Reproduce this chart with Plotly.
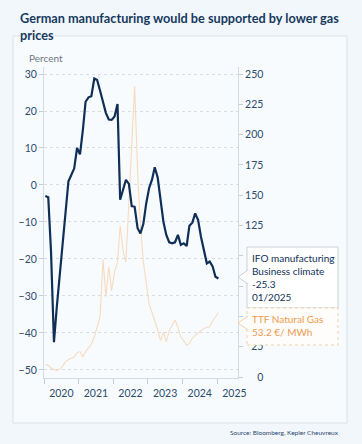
import plotly.graph_objects as go
import pandas as pd

# ---- data (monthly, Jan 2020 - Jan 2025) ----
months = pd.date_range("2020-01-01", periods=61, freq="MS") + pd.Timedelta(days=14)

ifo_business_climate = [
    -3.0, -3.3, -18.0, -42.5, -33.0, -24.0, -15.0, -6.5, 1.0, 2.7, 4.5, 10.0,
    8.3, 15.0, 22.5, 23.7, 24.0, 28.8, 28.4, 25.5, 22.5, 19.5, 17.7, 17.6,
    18.5, 21.9, -4.0, -1.5, 1.4, 0.3, -5.7, -5.9, -11.7, -13.1, -10.5, -5.0,
    -0.8, 1.5, 4.8, 2.0, -4.0, -10.0, -13.5, -15.5, -15.8, -15.5, -13.5, -16.2,
    -15.8, -16.5, -11.0, -10.2, -7.7, -9.5, -14.0, -17.5, -21.2, -20.7, -22.0, -24.8,
    -25.3,
]

ttf_gas = [
    10.5, 9.5, 7.5, 6.0, 5.5, 6.5, 9.0, 12.5, 14.5, 15.5, 16.5, 20.0,
    21.0, 16.5, 21.0, 24.0, 27.0, 33.0, 42.0, 50.0, 97.0, 66.0, 91.0, 71.0,
    87.0, 95.0, 125.0, 104.0, 95.0, 145.0, 195.0, 240.0, 170.0, 125.0, 95.0, 77.0,
    60.0, 53.0, 47.0, 39.0, 30.0, 37.0, 29.0, 38.0, 43.0, 47.0, 41.0, 33.0,
    30.0, 26.0, 28.0, 32.0, 34.5, 36.0, 38.5, 40.0, 41.0, 41.5, 46.5, 49.5,
    53.2,
]

left_ticks = [30, 20, 10, 0, -10, -20, -30, -40, -50]
right_ticks = [0, 25, 50, 75, 100, 125, 150, 175, 200, 225, 250]
right_hidden = [50, 75, 100]  # covered by the label boxes in the original

# ---- styling ----
NAVY = "#0f2f57"
TICK = "#2e4b6b"
PEACH = "#f8dbbf"
ORANGE = "#ec9a4c"
FONT = "Lato"

W, H = 362, 444
L, R, T, B = 44, 238, 67, 378
PW, PH = R - L, B - T


def px(x):
    return (x - L) / PW


def py(y):
    return (B - y) / PH


fig = go.Figure()
fig.add_trace(go.Scatter(x=months, y=ttf_gas, mode="lines", yaxis="y",
                         line=dict(color=PEACH, width=1.1), hoverinfo="skip"))
fig.add_trace(go.Scatter(x=months, y=ifo_business_climate, mode="lines", yaxis="y2",
                         line=dict(color=NAVY, width=2.2), hoverinfo="skip"))

pad = "\u2007"
right_text = ["" if v in right_hidden else pad * (3 - len(str(v))) + str(v)
              for v in right_ticks]

fig.update_layout(
    width=W, height=H,
    margin=dict(l=L, r=W - R, t=T, b=H - B),
    paper_bgcolor="#f2f7fb",
    plot_bgcolor="rgba(0,0,0,0)",
    showlegend=False,
    font=dict(family=FONT, color=TICK, size=10.5),
    xaxis=dict(
        type="date", range=["2020-01-01", "2025-08-10"],
        dtick="M12", tick0="2020-01-01", tickformat="%Y", ticklabelmode="period",
        ticks="outside", ticklen=5, tickcolor="#c4ccd4",
        showline=True, linecolor="#d3dae1", linewidth=1,
        showgrid=False, zeroline=False,
        tickfont=dict(size=10.5, color=TICK),
    ),
    yaxis=dict(
        side="right", range=[-0.8, 255.8],
        tickvals=right_ticks, ticktext=right_text,
        ticks="outside", ticklen=4, tickcolor="#c4ccd4",
        showline=True, linecolor="#d3dae1", linewidth=1,
        showgrid=False, zeroline=False,
        tickfont=dict(size=10.5, color=TICK),
    ),
    yaxis2=dict(
        side="left", overlaying="y", range=[-52.2, 31.9],
        tickvals=left_ticks,
        ticks="outside", ticklen=4, tickcolor="#c4ccd4",
        showline=True, linecolor="#d3dae1", linewidth=1,
        showgrid=True, gridcolor="#d7dde3", griddash="dot", gridwidth=1,
        zeroline=False,
        tickfont=dict(size=10.5, color=TICK),
    ),
)

shapes = [
    # outer panel
    dict(type="rect", xref="paper", yref="paper", layer="below",
         x0=px(13), x1=px(347), y0=py(423), y1=py(36),
         fillcolor="#f7fbfe", line=dict(color="#dbe1e7", width=1)),
    # IFO label box
    dict(type="rect", xref="paper", yref="paper", layer="above",
         x0=px(247), x1=px(338), y0=py(308), y1=py(247),
         fillcolor="#ffffff", line=dict(color="#c9d0d7", width=1)),
    # TTF label box
    dict(type="rect", xref="paper", yref="paper", layer="above",
         x0=px(247), x1=px(338), y0=py(345), y1=py(308),
         fillcolor="#fffdfb", line=dict(color="#f3cfa8", width=1, dash="dot")),
    # notches
    dict(type="path", xref="paper", yref="paper", layer="above",
         xsizemode="pixel", ysizemode="pixel", xanchor=px(238), yanchor=py(277),
         path="M 10,-7 L 0,0 L 10,7", fillcolor="#ffffff",
         line=dict(color="#c9d0d7", width=1)),
    dict(type="path", xref="paper", yref="paper", layer="above",
         xsizemode="pixel", ysizemode="pixel", xanchor=px(238), yanchor=py(323),
         path="M 10,-7 L 0,0 L 10,7", fillcolor="#fffdfb",
         line=dict(color="#f3cfa8", width=1)),
]
fig.update_layout(shapes=shapes)

last_date = months[-1].strftime("%m/%Y")
annotations = [
    dict(text="<b>German manufacturing would be supported by lower gas<br>prices</b>",
         xref="paper", yref="paper", x=px(18), y=py(8), xanchor="left", yanchor="top",
         showarrow=False, align="left",
         font=dict(family=FONT, size=12.7, color="#163a5f")),
    dict(text="Percent", xref="paper", yref="paper", x=px(27), y=py(58),
         xanchor="left", yanchor="middle", showarrow=False,
         font=dict(family=FONT, size=10, color="#6f7883")),
    dict(text=f"IFO manufacturing<br>Business climate<br>{ifo_business_climate[-1]}<br>{last_date}",
         xref="paper", yref="paper", x=px(250), y=py(250), xanchor="left", yanchor="top",
         showarrow=False, align="left",
         font=dict(family=FONT, size=10, color=NAVY)),
    dict(text=f"TTF Natural Gas<br>{ttf_gas[-1]} €/ MWh",
         xref="paper", yref="paper", x=px(250), y=py(311), xanchor="left", yanchor="top",
         showarrow=False, align="left",
         font=dict(family=FONT, size=10, color=ORANGE)),
    dict(text="Source: Bloomberg, Kepler Cheuvreux",
         xref="paper", yref="paper", x=px(341), y=py(432), xanchor="right", yanchor="middle",
         showarrow=False, font=dict(family=FONT, size=6.5, color="#2d4a6e")),
]
fig.update_layout(annotations=annotations)

fig.write_html("out.html", config={"displayModeBar": False},
               post_script="document.body.style.margin='0';"
               "document.body.style.overflow='hidden';")
